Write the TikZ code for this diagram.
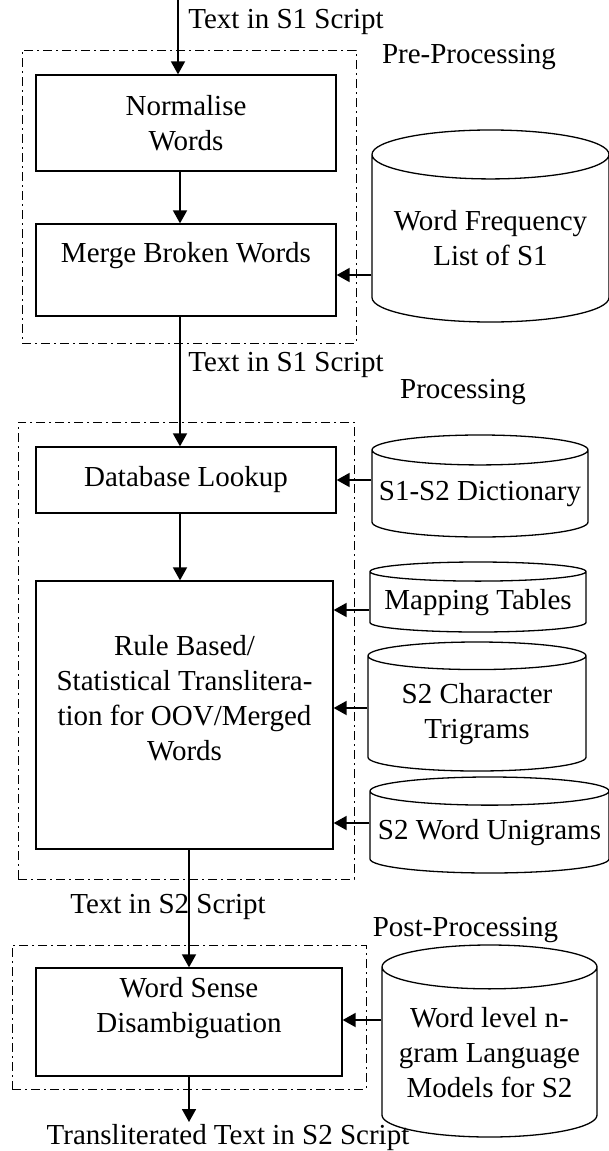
\documentclass[tikz,border=0pt]{standalone}
\usepackage{fontspec}
\setmainfont{Liberation Serif}
\usetikzlibrary{shapes.geometric,arrows.meta}
\tikzset{
  stage/.style={draw=black, line width=0.65pt, inner sep=0pt, align=center},
  group/.style={draw=black, line width=0.5pt, dash pattern=on 4.5pt off 2pt on 1pt off 2pt, inner sep=0pt},
  store/.style={cylinder, shape border rotate=90, anchor=shape center, draw=black, line width=0.65pt, inner sep=0pt, align=center},
  flow/.style={-{Triangle[length=6.5pt,width=7pt]}, line width=0.9pt},
  lbl/.style={inner sep=0pt}
}
\begin{document}
\begin{tikzpicture}[x=0.5pt,y=-0.5pt,font=\fontsize{14.5}{17.5}\selectfont]
\useasboundingbox (0,0) rectangle (609,1151);
\node [group, minimum width=167pt, minimum height=146.5pt] (pre) at (189,196.5) {};
\node [group, minimum width=168pt, minimum height=228.5pt] (proc) at (186,650.5) {};
\node [group, minimum width=177pt, minimum height=72pt] (post) at (189,1017) {};
\node [stage, minimum width=150pt, minimum height=48pt] (norm) at (186,123) {Normalise\\Words};
\node [stage, minimum width=150pt, minimum height=46pt] (merge) at (186,270) {Merge Broken Words\\~};
\node [stage, minimum width=150pt, minimum height=33pt] (db) at (186,480) {Database Lookup};
\node [stage, minimum width=148.5pt, minimum height=134pt] (rule) at (184.5,715) {Rule Based/\\Statistical Translitera-\\tion for OOV/Merged\\Words\\~};
\node [stage, minimum width=153pt, minimum height=54pt] (wsd) at (189,1022) {Word Sense\\Disambiguation\\~};
\node [store, minimum width=118.5pt, minimum height=96pt, aspect=0.253] (freq) at (490.5,226) {Word Frequency\\List of S1};
\node [store, minimum width=108pt, minimum height=51pt, aspect=0.148] (dict) at (480,486) {S1-S2 Dictionary};
\node [store, minimum width=108pt, minimum height=35pt, aspect=0.102] (map) at (478,597) {Mapping Tables};
\node [store, minimum width=109pt, minimum height=64.5pt, aspect=0.183] (tri) at (477,706.5) {S2 Character\\Trigrams};
\node [store, minimum width=119.5pt, minimum height=48pt, aspect=0.126] (uni) at (489.5,825) {S2 Word Unigrams};
\node [store, minimum width=107.5pt, minimum height=96pt, aspect=0.242] (lm) at (489.5,1041) {Word level n-\\gram Language\\Models for S2};
\node [lbl, anchor=west] (tin) at (188,22) {Text in S1 Script};
\node [lbl] (prelbl) at (469,57) {Pre-Processing};
\node [lbl, anchor=west] (tmid) at (188,365) {Text in S1 Script};
\node [lbl] (proclbl) at (463,392) {Processing};
\node [lbl] (ttwo) at (168,907) {Text in S2 Script};
\node [lbl] (postlbl) at (465.5,930) {Post-Processing};
\node [lbl] (tout) at (228,1138) {Transliterated Text in S2 Script};
\coordinate (src) at (178,0);
\coordinate (out) at (189,1122);
\draw [flow] (src) -- (norm.north -| src);
\draw [flow] (norm.south -| 180,0) -- (merge.north -| 180,0);
\draw [flow] (merge.south -| 180,0) -- (db.north -| 180,0);
\draw [flow] (db.south -| 180,0) -- (rule.north -| 180,0);
\draw [flow] (wsd.north |- rule.south) -- (wsd.north);
\draw [flow] (wsd.south) -- (out);
\draw [flow] (freq.west |- 0,275) -- (merge.east |- 0,275);
\draw [flow] (dict.west |- 0,480) -- (db.east |- 0,480);
\draw [flow] (map.west |- 0,610) -- (rule.east |- 0,610);
\draw [flow] (tri.west |- 0,708) -- (rule.east |- 0,708);
\draw [flow] (uni.west |- 0,823) -- (rule.east |- 0,823);
\draw [flow] (lm.west |- 0,1020) -- (wsd.east |- 0,1020);
\end{tikzpicture}
\end{document}
